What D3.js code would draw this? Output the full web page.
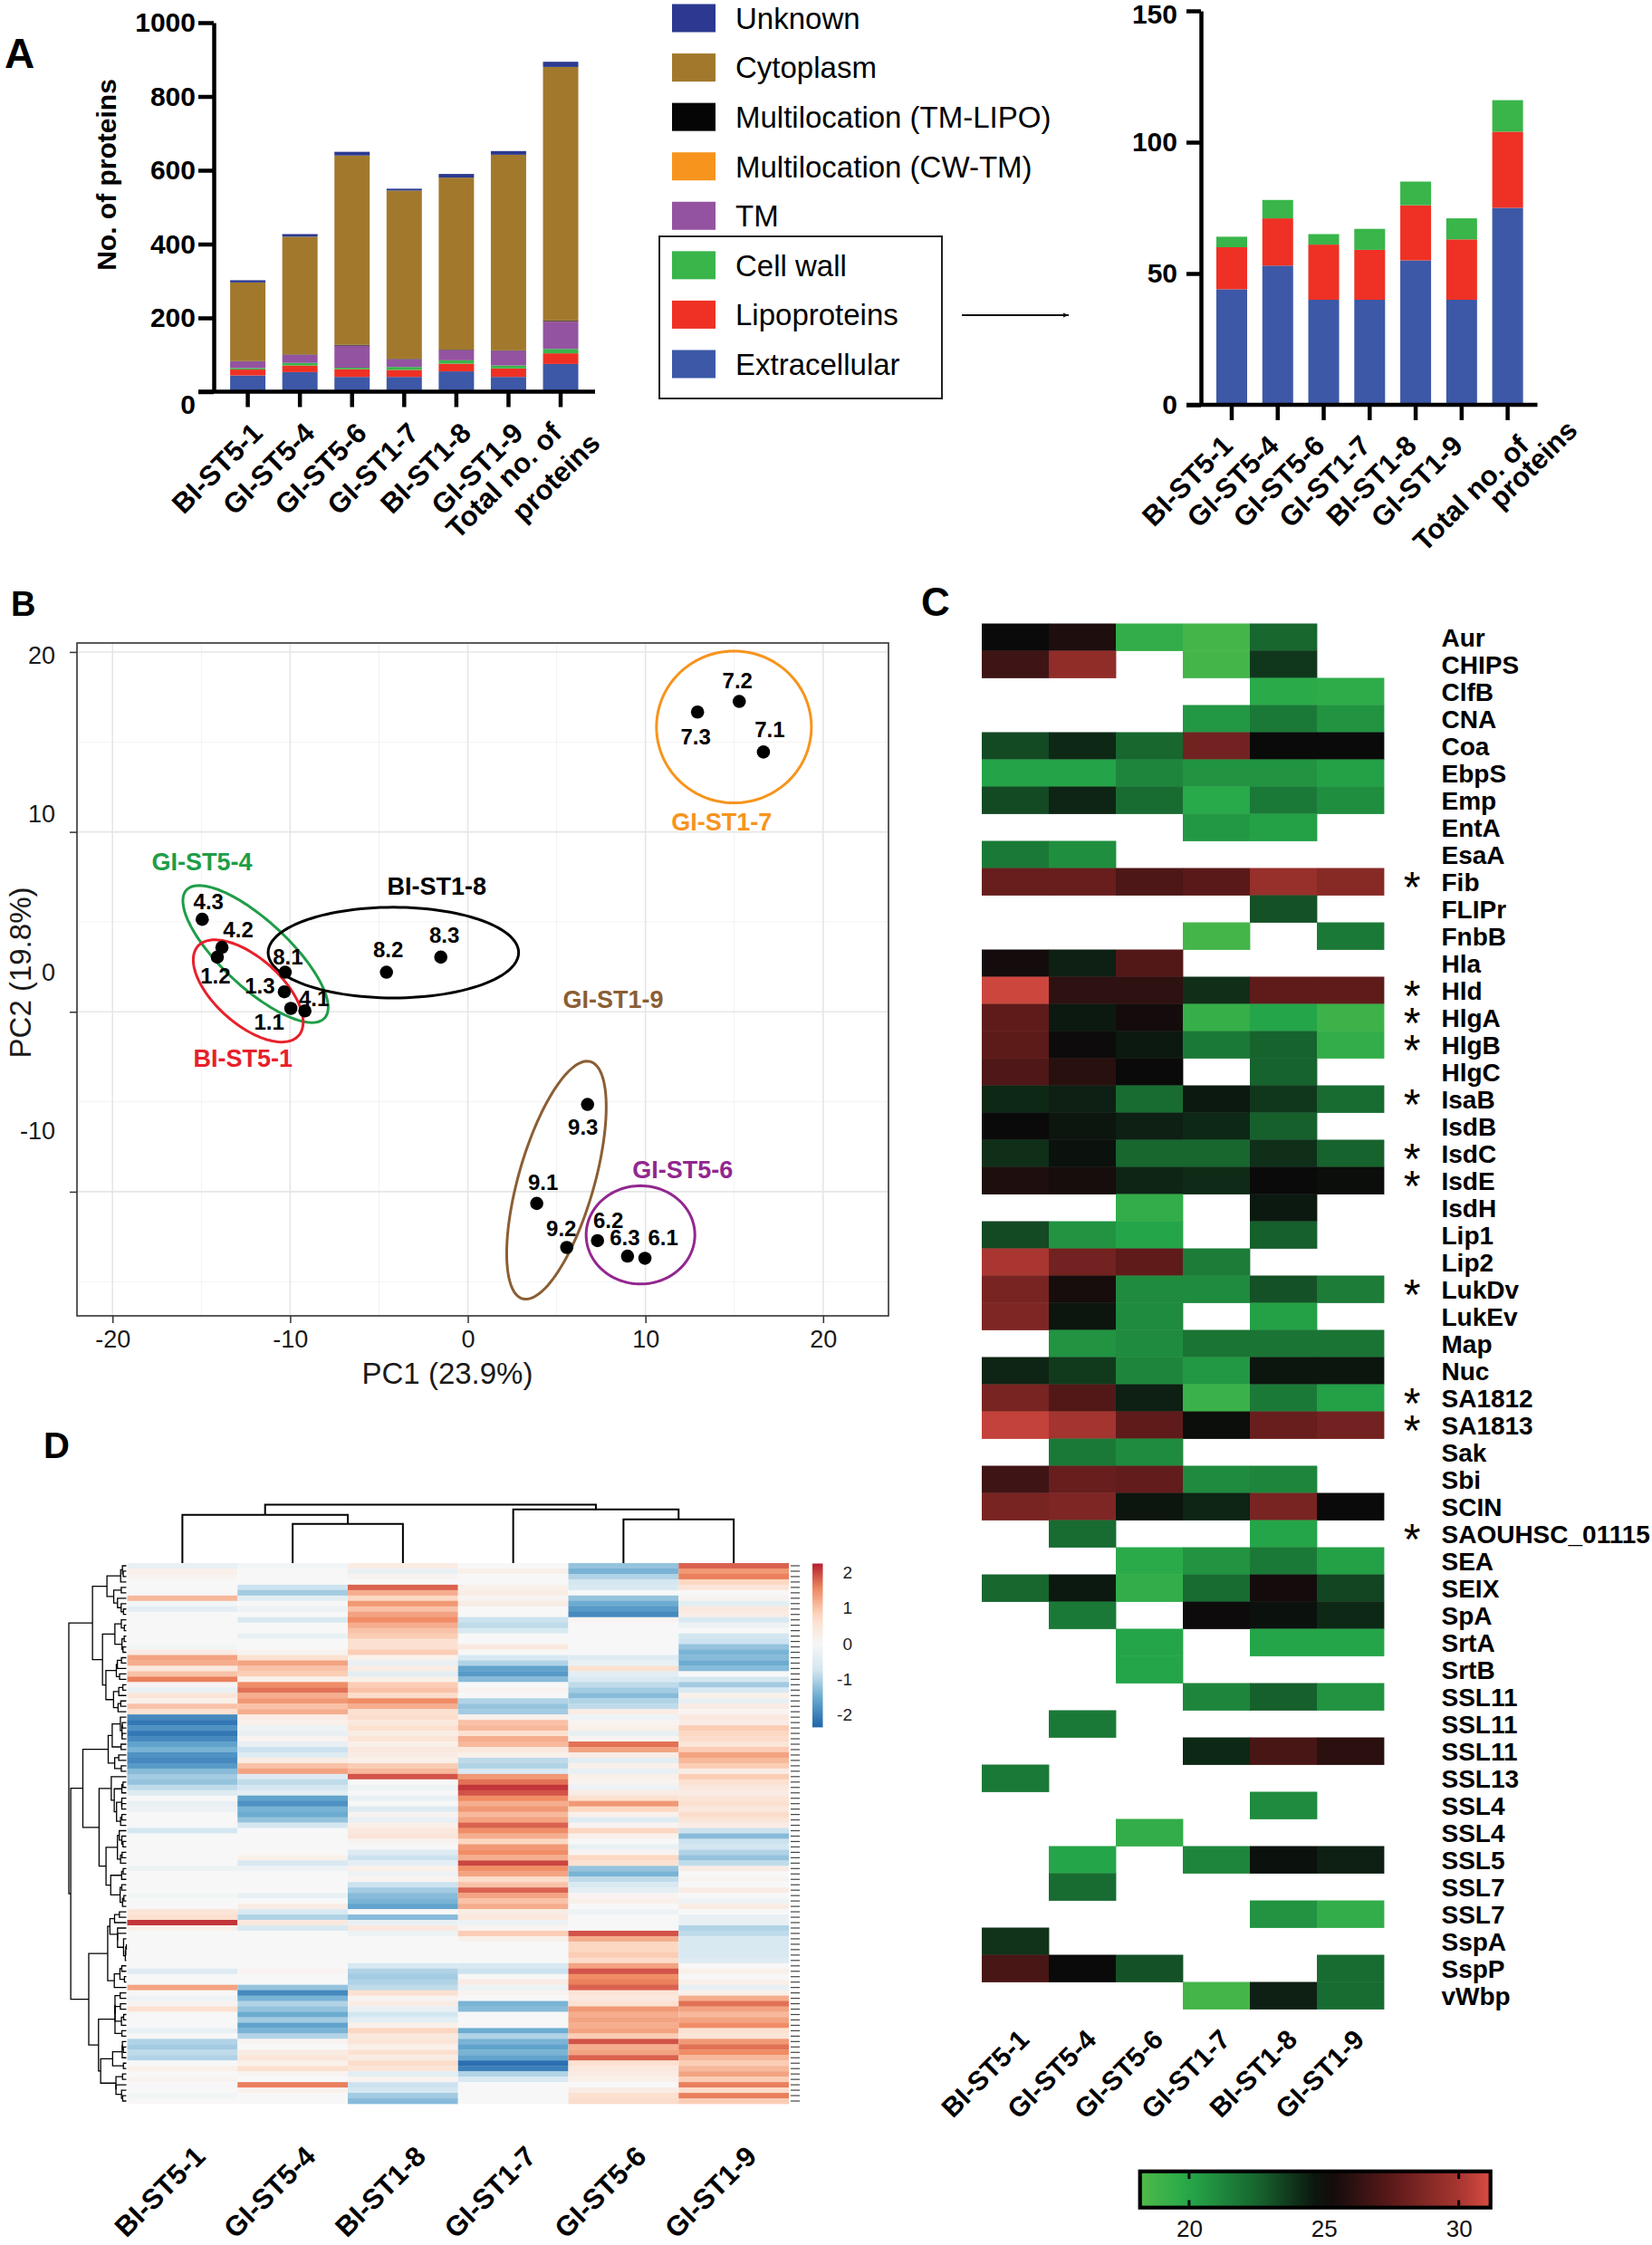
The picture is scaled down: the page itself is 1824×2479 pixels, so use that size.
<!DOCTYPE html>
<html>
<head>
<meta charset="utf-8">
<script src="https://cdn.jsdelivr.net/npm/d3@7/dist/d3.min.js"></script>
<style>
  html,body{margin:0;padding:0;background:#fff;}
  svg{display:block;}
  text{font-family:"Liberation Sans",Arial,Helvetica,sans-serif;}
</style>
</head>
<body>
<svg id="fig" width="1824" height="2479" xmlns="http://www.w3.org/2000/svg"></svg>
<script>
/* ======================= DATA ======================= */
// ---- Panel A : subcellular localisation counts ----
const strains = ["BI-ST5-1","GI-ST5-4","GI-ST5-6","GI-ST1-7","BI-ST1-8","GI-ST1-9","Total no. of proteins"];
const extracellular = [44, 53, 40, 40, 55, 40, 75];
const lipoproteins  = [16, 18, 21, 19, 21, 23, 29];
const cellWall      = [4, 7, 4, 8, 9, 8, 12];
const tm            = [18, 22, 60, 21, 28, 40, 74];
const multiCWTM     = [0, 0, 0, 0, 0, 0, 1];
const multiTMLIPO   = [1, 1, 2, 1, 1, 1, 2];
const cytoplasm     = [213, 319, 513, 456, 466, 530, 687];
const unknown       = [6, 7, 10, 5, 10, 10, 14];
const yTicksA = [0, 200, 400, 600, 800, 1000];
const yTicksA2 = [0, 50, 100, 150];

// ---- Panel B : PCA ----
const pcaSamples = ["7.1","7.2","7.3","4.1","4.2","4.3","1.1","1.2","1.3","8.1","8.2","8.3","9.1","9.2","9.3","6.1","6.2","6.3"];
const pc1 = [16.64, 15.28, 12.93, -9.17, -13.84, -14.95, -9.96, -14.1, -10.33, -10.28, -4.58, -1.52, 3.88, 5.57, 6.74, 9.97, 7.30, 8.99];
const pc2 = [14.44, 17.25, 16.66, 0.05, 3.58, 5.14, 0.19, 3.04, 1.11, 2.2, 2.2, 3.04, -10.65, -13.1, -5.15, -13.70, -12.72, -13.58];
const pcaGroups = ["GI-ST1-7","GI-ST5-4","BI-ST1-8","GI-ST1-9","BI-ST5-1","GI-ST5-6"];
const groupCx  = [14.98, -11.95, -4.19, 4.99, -12.36, 9.72];
const groupCy  = [15.83, 3.21, 3.29, -9.36, 1.16, -12.4];
const groupA   = [4.36, 5.27, 7.05, 6.86, 3.77, 3.06];
const groupB   = [4.22, 1.86, 2.52, 2.13, 1.85, 2.73];
const groupAng = [0, -42.4, 0, 73.8, -41, 0];
const groupLabelX = [14.29, -14.96, -1.75, 8.18, -12.66, 12.10];
const groupLabelY = [10.57, 8.33, 6.98, 0.70, -2.58, -8.75];
const pcTicksX = [-20, -10, 0, 10, 20];
const pcTicksY = [-10, 0, 10, 20];

// ---- Panel C : virulence factor abundance heat map ----
const cStrains = ["BI-ST5-1","GI-ST5-4","GI-ST5-6","GI-ST1-7","BI-ST1-8","GI-ST1-9"];
const cGenes = ["Aur","CHIPS","ClfB","CNA","Coa","EbpS","Emp","EntA","EsaA","Fib","FLIPr","FnbB","Hla","Hld","HlgA","HlgB","HlgC","IsaB","IsdB","IsdC","IsdE","IsdH","Lip1","Lip2","LukDv","LukEv","Map","Nuc","SA1812","SA1813","Sak","Sbi","SCIN","SAOUHSC_01115","SEA","SEIX","SpA","SrtA","SrtB","SSL11","SSL11","SSL11","SSL13","SSL4","SSL4","SSL5","SSL7","SSL7","SspA","SspP","vWbp"];
const cSignificant = ["Fib","Hld","HlgA","HlgB","IsaB","IsdC","IsdE","LukDv","SA1812","SA1813","SAOUHSC_01115"];
const n = null;
const cValues = [
  [25, 25.6, 19.5, 18.7, 22.5, n],
  [26.6, 29.2, n, 18.7, 23.8, n],
  [n, n, n, n, 19.8, 19.6],
  [n, n, n, 20.6, 21.8, 20.8],
  [23.3, 24.2, 22.5, 28.2, 25, 25],
  [20.2, 20.2, 21.3, 20.8, 20.8, 20.3],
  [23.3, 24.3, 22.3, 19.9, 21.8, 21],
  [n, n, n, 20.6, 20.3, n],
  [21.8, 21, n, n, n, n],
  [27.9, 27.9, 27, 27.4, 29.4, 28.9],
  [n, n, n, n, 23.1, n],
  [n, n, n, 18.7, n, 21.8],
  [25.3, 24.4, 27.2, n, n, n],
  [30.8, 26.1, 26.1, 24, 27.6, 27.6],
  [27.6, 24.6, 25.3, 19.3, 20.1, 19],
  [27.5, 25.1, 24.6, 21.8, 22.6, 19.5],
  [27.1, 25.9, 25, n, 22.6, n],
  [24.2, 24.4, 22.3, 24.6, 23.8, 22.3],
  [25, 24.7, 24.4, 24.2, 22.7, n],
  [24, 24.8, 22.5, 22.5, 24, 22.6],
  [25.6, 25.4, 24.3, 24.1, 25, 24.9],
  [n, n, 19.5, n, 24.6, n],
  [23.3, 20.8, 20.1, n, 22.7, n],
  [30, 28.2, 27.6, 21.7, n, n],
  [28.4, 25.4, 21.1, 21.1, 23.1, 21.7],
  [28.6, 24.7, 21.1, n, 20.3, n],
  [n, 20.8, 21.1, 22, 22, 22],
  [24.3, 23.7, 21.3, 20.6, 24.7, 24.7],
  [28.4, 27.2, 24.4, 19.1, 21.8, 20.3],
  [30.6, 29.8, 27.6, 24.9, 27.9, 28.2],
  [n, 21.8, 21.1, n, n, n],
  [26.6, 27.9, 27.7, 21.1, 21.3, n],
  [28.4, 28.6, 24.7, 24.3, 28.4, 25],
  [n, 22.3, n, n, 20.1, n],
  [n, n, 19.8, 20.8, 21.8, 20.3],
  [22.5, 24.6, 19.5, 22.3, 25.3, 23.4],
  [n, 21.8, n, 25.1, 24.8, 24.2],
  [n, n, 20.1, n, 20.1, 20.1],
  [n, n, 20.1, n, n, n],
  [n, n, n, 21.3, 22.7, 20.8],
  [n, 21.8, n, n, n, n],
  [n, n, n, 24.2, 26.9, 26],
  [21.8, n, n, n, n, n],
  [n, n, n, n, 21.1, n],
  [n, n, 19.5, n, n, n],
  [n, 20.1, n, 21.3, 24.8, 24.4],
  [n, 22.3, n, n, n, n],
  [n, n, n, n, 20.8, 19.5],
  [23.9, n, n, n, n, n],
  [26.9, 25, 23.1, n, n, 22.3],
  [n, n, n, 18.7, 24.4, 22.3]
];
const cLegendTicks = [20, 25, 30];

// ---- Panel D : z-scored protein abundance (row blocks) ----
const dStrains = ["BI-ST5-1","GI-ST5-4","BI-ST1-8","GI-ST1-7","GI-ST5-6","GI-ST1-9"];
const dBI_ST5_1 = [-0.3,0.2,0.1,0,0,0,1.1,-0.1,-0.4,0, 0,0,0,0,0,-0.1,0.3,1.3,1.2,0.4, 1.0,1.6,0.1,-0.3,0.5,0.2,1.0,0.6,-1.9,-2.1, -1.8,-2.1,-1.9,-1.6,-1.4,-1.8,-1.9,-1.7,-1.3,-1.1, -1.2,-0.9,-0.5,0,-0.3,-0.2,0,0,0,-0.7, 0,0,0,0,0,0,-0.2,0,0,0, 0,-0.1,0,0,0.5,0.6,2.1,0.2,0,0, 0,0,0,0,0,-0.5,0,0,1.3,0, -0.2,0.1,0.6,0,0,0,-0.3,0,-1.0,-1.1, -0.9,-1.0,0,0.2,0,0.1,0,0,-0.1,0];
const dGI_ST5_4 = [-0.1,0,0,0,-0.8,-1.1,-0.4,0,-0.2,0, -0.6,0,0,-0.3,0,0,0.1,0.6,1.3,1.0, 0.9,0.2,1.5,1.7,1.2,1.4,1.0,1.2,0.3,0.2, -0.2,-0.3,0.1,-0.3,-0.8,-0.5,0.3,1.0,1.3,-0.5, -0.9,-0.7,-0.4,-1.6,-1.8,-1.4,-1.5,-1.2,-0.7,0, 0,0,0,0,0.2,-0.6,-0.2,0,0,0, 0,-0.3,0,0.3,-0.6,-1.0,0.4,-0.6,0,0, 0,0,0,0,0,0.1,0,0,-1.2,-1.9, -1.4,-1.0,-1.2,-1.5,-1.1,-1.6,-1.4,-1.0,0.1,0, 0.3,0.5,0.2,0.6,0.1,0,1.6,0.2,0,0];
const dBI_ST1_8 = [0.3,-0.3,0.1,0,1.8,1.2,0.8,1.4,1.0,1.3, 1.5,1.2,1.0,0.9,0.6,0.6,0.9,0.2,-0.3,0.3, -0.4,0.2,0.9,1.0,0.7,1.5,1.2,0.6,0.7,0.4, 0.6,0.3,0.5,0.2,0.4,0.3,0.2,0.9,1.1,1.9, 0,-0.2,0,-0.3,0,-0.5,0.1,-0.3,0.2,0.4, 0.5,0.1,0,-0.5,-0.8,-0.4,0.2,-0.2,0.1,-0.8, -1.1,-1.3,-1.4,-1.6,0,-1.3,-0.3,0.4,-0.2,0, 0,0,0,0,-0.6,-1.0,-1.1,-1.0,-0.9,0.6, 0.1,0.3,-0.3,-0.7,-0.4,0.2,0.8,0.4,0.5,0.2, 0.6,0.3,0.7,0.5,-0.4,0.1,-0.8,-0.7,-1.1,-1.3];
const dGI_ST1_7 = [0,0.2,0,0,0.2,0.3,0.1,0.3,0,0, -0.8,-0.9,-0.6,0,0,0.4,0,-0.6,-1.0,-1.6, -1.7,-1.3,0,0.1,0,-1.0,-1.2,-1.1,0.2,1.0, 1.1,0.6,1.2,1.1,0.4,0.2,-0.9,-1.0,-0.6,1.4, 1.7,2.1,1.9,1.5,1.2,1.4,1.1,1.3,1.8,1.5, 1.2,0.8,1.4,1.5,1.2,2.0,1.5,1.3,0.7,1.0, 1.8,1.3,1.0,1.2,0.3,0.4,-0.2,0.1,0.9,0.2, 0,0,0,0,-0.6,-0.8,0,0.3,-0.2,0.1, 0,-1.4,-1.3,0,0,0,-1.5,-1.0,-1.4,-1.6, -1.4,-1.6,-2.2,-2.0,-1.0,-0.6,0,0,0,0];
const dGI_ST5_6 = [-1.2,-1.4,-1.0,-0.7,-0.6,0,-1.2,-1.5,-1.7,-1.9, 0.1,0,0,0,0,0,0,-0.5,-0.3,0.6, -0.4,-0.6,-0.9,-1.1,-1.3,-1.0,-0.9,0.3,-0.2,0.1, 0.2,-0.3,0.1,1.7,1.3,0.3,-0.4,0.2,-0.3,0.2, 0.1,-0.2,0.3,0.6,1.4,0.8,0.2,-0.5,0.1,0.8, 0.2,0,-0.3,0.1,0.8,0.6,-1.2,-1.4,-0.9,-0.6, -0.4,0.1,0.2,0,-0.2,0,0,0,1.9,1.2, 0.8,0.8,0.9,0.7,1.3,1.9,1.5,1.6,1.8,0.5, 0.4,0.6,1.4,1.2,1.3,1.2,1.3,0.9,1.9,1.2, 1.3,1.8,0.6,0.4,0.3,0.2,0,0.3,0.6,0.7];
const dGI_ST1_9 = [1.8,1.4,1.6,0.8,0.5,0,0.1,-0.4,0.4,0.3, -0.6,-0.2,0,-0.7,-0.8,-1.2,-1.4,-1.3,-1.5,-1.3, 0,-0.7,-1.1,-0.6,0.2,-0.3,0.3,0.1,0.4,0.3, 0.9,0.8,0.7,0.5,0.9,1.3,1.1,0.9,0.3,0.9, 0.6,0.4,0.3,0.5,0.6,0.4,0.7,0.5,0.3,-0.8, -1.3,-0.8,-0.7,-1.0,-1.2,-0.9,0.3,0,0.1,0, 0.3,0,-0.2,0.3,0,-0.3,-0.3,-1.0,-0.9,-0.6, -0.6,-0.6,-0.6,-0.5,0,0.2,0,0.2,-0.3,0.2, 1.2,1.7,1.3,1.1,1.3,1.5,0.6,0.5,1.4,1.7, 1.5,1.1,0.9,1.1,1.3,0.9,1.6,0.7,1.6,0.9];
// column dendrogram (merge heights)
const dColTree = {h: 64, children: [
  {h: 53, children: [{leaf: "BI-ST5-1"}, {h: 43, children: [{leaf: "GI-ST5-4"}, {leaf: "BI-ST1-8"}]}]},
  {h: 59, children: [{leaf: "GI-ST1-7"}, {h: 48, children: [{leaf: "GI-ST5-6"}, {leaf: "GI-ST1-9"}]}]}
]};
const dLegendTicks = [2, 1, 0, -1, -2];

/* ======================= DRAW ======================= */
const svg = d3.select("#fig");
svg.append("rect").attr("width", 1824).attr("height", 2479).attr("fill", "#fff");
const plain = d => String(d);   // hyphen-minus, no thousands separator

function panelLetter(t, x, y, size) {
  svg.append("text").attr("x", x).attr("y", y).attr("font-size", size).attr("font-weight", 700).text(t);
}
function styleAxis(sel, w, size) {
  sel.select(".domain").attr("stroke", "#000").attr("stroke-width", w);
  sel.selectAll(".tick line").attr("stroke", "#000").attr("stroke-width", w);
  sel.selectAll(".tick text").attr("font-size", size).attr("font-weight", 700).attr("fill", "#000")
     .attr("font-family", '"Liberation Sans",Arial,sans-serif');
}
function strainLabels(g, scale, dx, y, size, a, L, totalDx) {
  scale.domain().forEach(s => {
    const isTotal = s.startsWith("Total");
    const lines = isTotal ? ["Total no. of", "proteins"] : [s];
    const cx = scale(s) + scale.bandwidth() / 2 + (isTotal ? totalDx : dx);
    const t = g.append("text").attr("transform", `translate(${cx},${y}) rotate(-45)`)
      .attr("text-anchor", "end").attr("font-size", size).attr("font-weight", 700);
    lines.forEach((ln, i) => t.append("tspan").attr("x", i * a).attr("y", i * L).text(ln));
  });
}

/* ---------- Panel A (left) ---------- */
panelLetter("A", 5, 75, 46);
const keysA = ["Extracellular","Lipoproteins","Cell wall","TM","Multilocation (CW-TM)","Multilocation (TM-LIPO)","Cytoplasm","Unknown"];
const valuesA = {"Extracellular": extracellular, "Lipoproteins": lipoproteins, "Cell wall": cellWall, "TM": tm,
  "Multilocation (CW-TM)": multiCWTM, "Multilocation (TM-LIPO)": multiTMLIPO, "Cytoplasm": cytoplasm, "Unknown": unknown};
const colorsA = {"Extracellular": "#3d58a7", "Lipoproteins": "#ee3124", "Cell wall": "#39b54a", "TM": "#9453a1",
  "Multilocation (CW-TM)": "#f7941d", "Multilocation (TM-LIPO)": "#050505", "Cytoplasm": "#a2792c", "Unknown": "#2b3990"};
const tableA = strains.map((s, i) => { const o = {strain: s}; keysA.forEach(k => o[k] = valuesA[k][i]); return o; });
const stackedA = d3.stack().keys(keysA)(tableA);

const xA = d3.scaleBand().domain(strains).range([244.8, 647.8]).paddingInner(0.323).paddingOuter(0.1615);
const yA = d3.scaleLinear().domain([0, 1000]).range([432.5, 25]);
const gA = svg.append("g");
gA.selectAll("g.layer").data(stackedA).join("g").attr("class", "layer").attr("fill", d => colorsA[d.key])
  .selectAll("rect").data(d => d).join("rect")
  .attr("x", d => xA(d.data.strain)).attr("width", xA.bandwidth())
  .attr("y", d => yA(d[1])).attr("height", d => Math.max(0, yA(d[0]) - yA(d[1])));
const yAxA = gA.append("g").attr("transform", "translate(236,0)")
  .call(d3.axisLeft(yA).tickValues(yTicksA).tickSize(17).tickSizeOuter(0).tickPadding(3).tickFormat(plain));
styleAxis(yAxA, 4.5, 30);
yAxA.selectAll(".tick").filter(d => d === 0).select("text").attr("transform", "translate(0,14)");
const xAxA = gA.append("g").attr("transform", "translate(0,432.5)")
  .call(d3.axisBottom(xA).tickSize(17).tickSizeOuter(0).tickFormat(""));
styleAxis(xAxA, 4.5, 30);
xAxA.select(".domain").remove();
gA.append("line").attr("x1", 219).attr("x2", 657).attr("y1", 432.5).attr("y2", 432.5)
  .attr("stroke", "#000").attr("stroke-width", 4.5);
gA.append("text").attr("transform", "translate(117,193) rotate(-90)").attr("text-anchor", "middle")
  .attr("dy", "0.35em").attr("font-size", 30).attr("font-weight", 700).text("No. of proteins");
strainLabels(gA, xA, 18, 480, 31, 22, 38, 3);

/* ---------- Legend ---------- */
const legendOrder = ["Unknown","Cytoplasm","Multilocation (TM-LIPO)","Multilocation (CW-TM)","TM","Cell wall","Lipoproteins","Extracellular"];
const legY = d3.scalePoint().domain(legendOrder).range([20, 402]);
const gL = svg.append("g");
gL.selectAll("rect.sw").data(legendOrder).join("rect").attr("class", "sw")
  .attr("x", 742).attr("y", d => legY(d) - 15.5).attr("width", 48).attr("height", 31).attr("fill", d => colorsA[d]);
gL.selectAll("text").data(legendOrder).join("text").attr("x", 812).attr("y", d => legY(d)).attr("dy", "0.36em")
  .attr("font-size", 33).text(d => d);
gL.append("rect").attr("x", 728).attr("y", 261).attr("width", 312).attr("height", 179)
  .attr("fill", "none").attr("stroke", "#222").attr("stroke-width", 2);
const defs = svg.append("defs");
defs.append("marker").attr("id", "arrow").attr("viewBox", "0 0 10 10").attr("refX", 10).attr("refY", 5)
  .attr("markerWidth", 9).attr("markerHeight", 6).attr("markerUnits", "userSpaceOnUse").attr("orient", "auto")
  .append("path").attr("d", "M0,1 L10,5 L0,9 Z").attr("fill", "#111");
gL.append("line").attr("x1", 1062).attr("x2", 1180).attr("y1", 348).attr("y2", 348)
  .attr("stroke", "#111").attr("stroke-width", 2).attr("marker-end", "url(#arrow)");

/* ---------- Panel A (right) ---------- */
const keysB = ["Extracellular","Lipoproteins","Cell wall"];
const stackedB = d3.stack().keys(keysB)(tableA);
const xB = d3.scaleBand().domain(strains).range([1334.6, 1690]).paddingInner(0.33).paddingOuter(0.165);
const yB = d3.scaleLinear().domain([0, 150]).range([447, 12]);
const gR = svg.append("g");
gR.selectAll("g.layer").data(stackedB).join("g").attr("class", "layer").attr("fill", d => colorsA[d.key])
  .selectAll("rect").data(d => d).join("rect")
  .attr("x", d => xB(d.data.strain)).attr("width", xB.bandwidth())
  .attr("y", d => yB(d[1])).attr("height", d => Math.max(0, yB(d[0]) - yB(d[1])));
const yAxB = gR.append("g").attr("transform", "translate(1326,0)")
  .call(d3.axisLeft(yB).tickValues(yTicksA2).tickSize(16).tickSizeOuter(0).tickPadding(10).tickFormat(plain));
styleAxis(yAxB, 4.5, 30);
yAxB.selectAll(".tick").filter(d => d === 150).select("text").attr("transform", "translate(0,4)");
const xAxB = gR.append("g").attr("transform", "translate(0,447)")
  .call(d3.axisBottom(xB).tickSize(17).tickSizeOuter(0).tickFormat(""));
styleAxis(xAxB, 4.5, 30);
xAxB.select(".domain").remove();
gR.append("line").attr("x1", 1310).attr("x2", 1697.5).attr("y1", 447).attr("y2", 447)
  .attr("stroke", "#000").attr("stroke-width", 4.5);
strainLabels(gR, xB, 3, 494, 31, 50, 26, 25);

/* ---------- Panel B : PCA ---------- */
panelLetter("B", 12, 680, 38);
const xP = d3.scaleLinear().domain([-22, 23.68]).range([85, 981]);
const yP = d3.scaleLinear().domain([-16.9, 20.5]).range([1453, 710]);
const yPLabel = d3.scaleLinear().domain([-10, 20]).range([1249, 724]);
const gP = svg.append("g");
[-15, -5, 5, 15].forEach(v => gP.append("line").attr("x1", xP(v)).attr("x2", xP(v)).attr("y1", 710).attr("y2", 1453).attr("stroke", "#f2f2f2").attr("stroke-width", 1));
[-15, -5, 5, 15].forEach(v => gP.append("line").attr("x1", 85).attr("x2", 981).attr("y1", yP(v)).attr("y2", yP(v)).attr("stroke", "#f2f2f2").attr("stroke-width", 1));
pcTicksX.forEach(v => gP.append("line").attr("x1", xP(v)).attr("x2", xP(v)).attr("y1", 710).attr("y2", 1453).attr("stroke", "#e6e6e6").attr("stroke-width", 1.6));
pcTicksY.forEach(v => gP.append("line").attr("x1", 85).attr("x2", 981).attr("y1", yP(v)).attr("y2", yP(v)).attr("stroke", "#e6e6e6").attr("stroke-width", 1.6));
gP.append("rect").attr("x", 85).attr("y", 710).attr("width", 896).attr("height", 743)
  .attr("fill", "none").attr("stroke", "#333").attr("stroke-width", 1.6);
const yTickP = gP.append("g").attr("transform", "translate(85,0)").call(d3.axisLeft(yP).tickValues(pcTicksY).tickSize(8).tickFormat(""));
yTickP.select(".domain").remove(); yTickP.selectAll("line").attr("stroke", "#333").attr("stroke-width", 1.5);
const yLabP = gP.append("g").attr("transform", "translate(85,0)").call(d3.axisLeft(yPLabel).tickValues(pcTicksY).tickSize(0).tickPadding(24).tickFormat(plain));
yLabP.select(".domain").remove();
yLabP.selectAll("text").attr("font-size", 27).attr("fill", "#1a1a1a").attr("font-family", '"Liberation Sans",Arial,sans-serif');
const xAxP = gP.append("g").attr("transform", "translate(0,1453)").call(d3.axisBottom(xP).tickValues(pcTicksX).tickSize(8).tickPadding(8).tickFormat(plain));
xAxP.select(".domain").remove(); xAxP.selectAll("line").attr("stroke", "#333").attr("stroke-width", 1.5);
xAxP.selectAll("text").attr("font-size", 27).attr("fill", "#1a1a1a").attr("font-family", '"Liberation Sans",Arial,sans-serif');
gP.append("text").attr("x", 494).attr("y", 1516).attr("dy", "0.35em").attr("text-anchor", "middle").attr("font-size", 33).attr("fill", "#1a1a1a").text("PC1 (23.9%)");
gP.append("text").attr("transform", "translate(22,1074) rotate(-90)").attr("dy", "0.35em").attr("text-anchor", "middle").attr("font-size", 33).attr("fill", "#1a1a1a").text("PC2 (19.8%)");

const groupColors = {"GI-ST1-7": "#f7941d", "GI-ST5-4": "#1f9d48", "BI-ST1-8": "#000000", "GI-ST1-9": "#8b5e34", "BI-ST5-1": "#e8202a", "GI-ST5-6": "#92278f"};
const ellLine = d3.line().x(p => xP(p[0])).y(p => yP(p[1])).curve(d3.curveLinearClosed);
pcaGroups.forEach((gname, i) => {
  const phi = groupAng[i] * Math.PI / 180;
  const pts = d3.range(0, 360, 3).map(deg => {
    const t = deg * Math.PI / 180;
    const ex = groupA[i] * Math.cos(t), ey = groupB[i] * Math.sin(t);
    return [groupCx[i] + ex * Math.cos(phi) - ey * Math.sin(phi), groupCy[i] + ex * Math.sin(phi) + ey * Math.cos(phi)];
  });
  gP.append("path").attr("d", ellLine(pts)).attr("fill", "none").attr("stroke", groupColors[gname]).attr("stroke-width", 3);
  gP.append("text").attr("x", xP(groupLabelX[i])).attr("y", yP(groupLabelY[i])).attr("dy", "0.36em")
    .attr("text-anchor", "middle").attr("font-size", 27).attr("font-weight", 700).attr("fill", groupColors[gname]).text(gname);
});
const pointLabelOffset = {"7.2": [-2, -23], "7.3": [-2, 27], "7.1": [7, -25], "9.3": [-5, 25], "9.1": [7, -23], "9.2": [-6, -21],
  "6.2": [12, -23], "6.3": [-3, -21], "6.1": [20, -23], "4.3": [7, -20], "4.2": [18, -20], "1.2": [-2, 20], "8.1": [3, -17],
  "1.3": [-27, -7], "1.1": [-24, 15], "4.1": [10, -14], "8.2": [2, -25], "8.3": [4, -25]};
pcaSamples.forEach((s, i) => {
  gP.append("circle").attr("cx", xP(pc1[i])).attr("cy", yP(pc2[i])).attr("r", 7.3).attr("fill", "#000");
});
pcaSamples.forEach((s, i) => {
  const o = pointLabelOffset[s];
  gP.append("text").attr("x", xP(pc1[i]) + o[0]).attr("y", yP(pc2[i]) + o[1]).attr("dy", "0.36em")
    .attr("text-anchor", "middle").attr("font-size", 24).attr("font-weight", 700).text(s);
});

/* ---------- Panel C : heat map ---------- */
panelLetter("C", 1017, 680, 44);
const cColor = d3.scaleLinear().domain([18.25, 20, 22.5, 25, 27.5, 30, 31.1])
  .range(["#4fba48", "#26a84a", "#17672f", "#0a0a0a", "#5c1a19", "#a93631", "#d94c43"]).clamp(true);
const xC = d3.scaleBand().domain(d3.range(cStrains.length)).range([1084, 1528]);
const yC = d3.scaleBand().domain(d3.range(cGenes.length)).range([688.5, 2218.5]);
const gC = svg.append("g");
cValues.forEach((row, r) => row.forEach((v, c) => {
  if (v === null) return;
  gC.append("rect").attr("x", xC(c)).attr("y", yC(r)).attr("width", xC.bandwidth() + 0.4).attr("height", yC.bandwidth() + 0.4)
    .attr("fill", cColor(v));
}));
cGenes.forEach((gname, r) => {
  gC.append("text").attr("x", 1591.5).attr("y", yC(r) + yC.bandwidth() / 2).attr("dy", "0.36em")
    .attr("font-size", 28).attr("font-weight", 700).text(gname);
});
// significance asterisks (one text element, one tspan per marked row)
const starText = gC.append("text").attr("text-anchor", "middle").attr("font-size", 48);
cGenes.forEach((gname, r) => {
  if (cSignificant.includes(gname)) {
    starText.append("tspan").attr("x", 1559).attr("y", yC(r) + yC.bandwidth() / 2 + 22).text("*");
  }
});
cStrains.forEach((s, c) => {
  gC.append("text").attr("transform", `translate(${xC(c) + xC.bandwidth() / 2 + 17},2254) rotate(-45)`)
    .attr("text-anchor", "end").attr("font-size", 30).attr("font-weight", 700).text(s);
});
// colour bar
const xCL = d3.scaleLinear().domain([18.25, 31.1]).range([1260.8, 1643.4]);
const gradC = defs.append("linearGradient").attr("id", "gradC").attr("x1", "0%").attr("x2", "100%").attr("y1", "0%").attr("y2", "0%");
d3.range(0, 1.0001, 0.05).forEach(t => {
  const v = 18.25 + t * (31.1 - 18.25);
  gradC.append("stop").attr("offset", (t * 100) + "%").attr("stop-color", cColor(v));
});
gC.append("rect").attr("x", 1258.7).attr("y", 2397.7).attr("width", 387).attr("height", 40)
  .attr("fill", "url(#gradC)").attr("stroke", "#000").attr("stroke-width", 4.2);
[20, 30].forEach(v => {
  gC.append("line").attr("x1", xCL(v)).attr("x2", xCL(v)).attr("y1", 2399.8).attr("y2", 2406).attr("stroke", "#000").attr("stroke-width", 3);
  gC.append("line").attr("x1", xCL(v)).attr("x2", xCL(v)).attr("y1", 2429.5).attr("y2", 2435.6).attr("stroke", "#000").attr("stroke-width", 3);
});
const cLegAx = gC.append("g").attr("transform", "translate(0,2439.7)").call(d3.axisBottom(xCL).tickValues(cLegendTicks).tickSize(0).tickPadding(12).tickFormat(plain));
cLegAx.select(".domain").remove();
cLegAx.selectAll("text").attr("font-size", 26).attr("fill", "#111").attr("font-family", '"Liberation Sans",Arial,sans-serif');

/* ---------- Panel D : clustered heat map ---------- */
panelLetter("D", 48, 1610, 40);
const dCols = [dBI_ST5_1, dGI_ST5_4, dBI_ST1_8, dGI_ST1_7, dGI_ST5_6, dGI_ST1_9];
const nRows = dBI_ST5_1.length;
const dMatrix = d3.range(nRows).map(r => dCols.map(col => col[r]));
const dColor = d3.scaleLinear().domain([-2.3, -1.533, -0.767, 0, 0.767, 1.533, 2.3])
  .range(["#2166AC", "#67A9CF", "#D1E5F0", "#F7F7F7", "#FDDBC7", "#EF8A62", "#B2182B"]).clamp(true);
const xD = d3.scaleBand().domain(dStrains).range([140.5, 871]);
const yD = d3.scaleBand().domain(d3.range(nRows)).range([1726, 2323]);
const yDpos = d3.scaleLinear().domain([-0.5, nRows - 0.5]).range([1726, 2323]);
const gD = svg.append("g");
dMatrix.forEach((row, r) => row.forEach((v, c) => {
  gD.append("rect").attr("x", xD(dStrains[c])).attr("y", yD(r)).attr("width", xD.bandwidth())
    .attr("height", yD.bandwidth() + 0.35).attr("fill", dColor(v));
}));
// row dendrogram: order-preserving Ward clustering of the rows
function clusterRows(m) {
  let cl = m.map((r, i) => ({size: 1, c: r.slice(), pos: i, h: 0, children: null}));
  while (cl.length > 1) {
    let best = 0, bd = Infinity;
    for (let k = 0; k < cl.length - 1; k++) {
      const A = cl[k], B = cl[k + 1];
      const d = Math.sqrt(d3.sum(A.c, (v, j) => (v - B.c[j]) ** 2)) * Math.sqrt(2 * A.size * B.size / (A.size + B.size));
      if (d < bd) { bd = d; best = k; }
    }
    const A = cl[best], B = cl[best + 1], size = A.size + B.size;
    const node = {size, c: A.c.map((v, j) => (v * A.size + B.c[j] * B.size) / size), pos: (A.pos + B.pos) / 2,
      h: Math.max(bd, A.h, B.h), children: [A, B]};
    cl.splice(best, 2, node);
  }
  return cl[0];
}
const rowRoot = clusterRows(dMatrix);
const xRD = d3.scaleLinear().domain([0, rowRoot.h]).range([139.5, 76]);
(function drawRow(nd) {
  if (!nd.children) return;
  const [A, B] = nd.children;
  gD.append("path").attr("d", `M${xRD(A.h)},${yDpos(A.pos)}H${xRD(nd.h)}V${yDpos(B.pos)}H${xRD(B.h)}`)
    .attr("fill", "none").attr("stroke", "#000").attr("stroke-width", 1.3);
  drawRow(A); drawRow(B);
})(rowRoot);
// column dendrogram
const yCD = d3.scaleLinear().domain([0, 64]).range([1726, 1661.6]);
(function drawCol(nd) {
  if (nd.leaf) { nd.x = xD(nd.leaf) + xD.bandwidth() / 2; nd.h = 0; return; }
  nd.children.forEach(drawCol);
  const [A, B] = nd.children;
  nd.x = (A.x + B.x) / 2;
  gD.append("path").attr("d", `M${A.x},${yCD(A.h)}V${yCD(nd.h)}H${B.x}V${yCD(B.h)}`)
    .attr("fill", "none").attr("stroke", "#000").attr("stroke-width", 2);
})(dColTree);
// tiny row names on the right
d3.range(nRows).forEach(r => {
  gD.append("line").attr("x1", 873).attr("x2", 883).attr("y1", yD(r) + yD.bandwidth() / 2).attr("y2", yD(r) + yD.bandwidth() / 2)
    .attr("stroke", "#444").attr("stroke-width", 1.2);
});
dStrains.forEach(s => {
  gD.append("text").attr("transform", `translate(${xD(s) + xD.bandwidth() / 2 + 27},2383) rotate(-45)`)
    .attr("text-anchor", "end").attr("font-size", 31).attr("font-weight", 700).text(s);
});
// legend
const yDL = d3.scaleLinear().domain([2.25, -2.35]).range([1726.5, 1907.4]);
const gradD = defs.append("linearGradient").attr("id", "gradD").attr("x1", "0%").attr("x2", "0%").attr("y1", "0%").attr("y2", "100%");
d3.range(0, 1.0001, 0.05).forEach(t => {
  gradD.append("stop").attr("offset", (t * 100) + "%").attr("stop-color", dColor(2.25 - t * 4.6));
});
gD.append("rect").attr("x", 897).attr("y", 1726.5).attr("width", 11.5).attr("height", 180.9).attr("fill", "url(#gradD)");
const dLegAx = gD.append("g").attr("transform", "translate(941,0)").call(d3.axisLeft(yDL).tickValues(dLegendTicks).tickSize(0).tickPadding(0).tickFormat(plain));
dLegAx.select(".domain").remove();
dLegAx.selectAll("text").attr("font-size", 19).attr("fill", "#222").attr("font-family", '"Liberation Sans",Arial,sans-serif');
</script>
</body>
</html>
